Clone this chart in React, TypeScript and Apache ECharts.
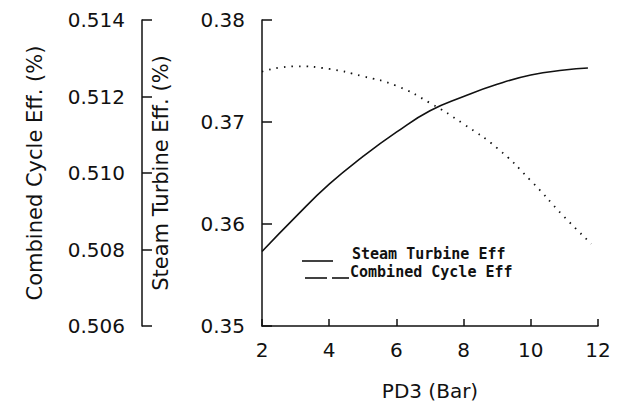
import React, { useEffect, useRef } from "react";
import * as echarts from "echarts";

// PD3 pressure (bar) sample points and efficiencies
const pd3Steam = [2, 3, 4, 5, 6, 7, 8, 9, 10, 11, 11.7];
const steamEff = [0.3573, 0.3607, 0.3639, 0.3666, 0.369, 0.3711, 0.3725, 0.3737, 0.3746, 0.3751, 0.3753];
const pd3Combined = [2, 3, 4, 5, 6, 7, 8, 9, 10, 11, 11.8];
const combinedEff = [0.51265, 0.51279, 0.51272, 0.51253, 0.51228, 0.51183, 0.51128, 0.51065, 0.5098, 0.50885, 0.50815];

const legendNames = ["Steam Turbine Eff", "Combined Cycle Eff"];

const FONT = "DejaVu Sans";
const INK = "#111";

export default function App() {
  const ref = useRef<HTMLDivElement>(null);

  useEffect(() => {
    if (!ref.current) return;
    const chart = echarts.init(ref.current, undefined, { renderer: "svg" });

    const axisText = { color: INK, fontFamily: FONT, fontSize: 20 };
    const axisLine = { show: true, lineStyle: { color: INK, width: 1.5 } };
    const legendFont = `bold 15px "DejaVu Sans Mono"`;

    chart.setOption({
      animation: false,
      backgroundColor: "#fff",
      grid: { left: 262, right: 22, top: 20, bottom: 85 },
      xAxis: {
        type: "value",
        min: 2,
        max: 12,
        interval: 2,
        name: "PD3 (Bar)",
        nameLocation: "middle",
        nameGap: 55,
        nameTextStyle: { ...axisText, fontSize: 20 },
        axisLine,
        axisTick: { inside: true, length: 7, lineStyle: { color: INK, width: 1.5 } },
        axisLabel: { ...axisText, margin: 14 },
        splitLine: { show: false },
      },
      yAxis: [
        {
          type: "value",
          min: 0.35,
          max: 0.38,
          interval: 0.01,
          position: "left",
          name: "Steam Turbine Eff. (%)",
          nameLocation: "middle",
          nameRotate: 90,
          nameGap: 91,
          nameTextStyle: { ...axisText, fontSize: 21 },
          axisLine,
          axisTick: { inside: true, length: 10, lineStyle: { color: INK, width: 1.5 } },
          axisLabel: { ...axisText, margin: 17, formatter: (v: number) => v.toFixed(2) },
          splitLine: { show: false },
        },
        {
          type: "value",
          min: 0.506,
          max: 0.514,
          interval: 0.002,
          position: "left",
          offset: 120,
          name: "Combined Cycle Eff. (%)",
          nameLocation: "middle",
          nameRotate: 90,
          nameGap: 97,
          nameTextStyle: { ...axisText, fontSize: 21 },
          axisLine,
          axisTick: { inside: true, length: 10, lineStyle: { color: INK, width: 1.5 } },
          axisLabel: { ...axisText, margin: 17, formatter: (v: number) => v.toFixed(3) },
          splitLine: { show: false },
        },
      ],
      series: [
        {
          name: legendNames[0],
          type: "line",
          yAxisIndex: 0,
          smooth: true,
          showSymbol: false,
          lineStyle: { color: INK, width: 1.6 },
          data: pd3Steam.map((x, i) => [x, steamEff[i]]),
        },
        {
          name: legendNames[1],
          type: "line",
          yAxisIndex: 1,
          smooth: true,
          showSymbol: false,
          lineStyle: { color: INK, width: 1.8, type: [1.5, 6] },
          data: pd3Combined.map((x, i) => [x, combinedEff[i]]),
        },
      ],
      graphic: [
        { type: "line", shape: { x1: 302, y1: 261, x2: 333, y2: 261 }, style: { stroke: INK, lineWidth: 1.6 } },
        {
          type: "text",
          x: 352,
          y: 254,
          style: { text: legendNames[0], fill: INK, font: legendFont, verticalAlign: "middle" },
        },
        { type: "line", shape: { x1: 305, y1: 278, x2: 327, y2: 278 }, style: { stroke: INK, lineWidth: 1.6 } },
        { type: "line", shape: { x1: 332, y1: 278, x2: 349, y2: 278 }, style: { stroke: INK, lineWidth: 1.6 } },
        {
          type: "text",
          x: 350,
          y: 272,
          style: { text: legendNames[1], fill: INK, font: legendFont, verticalAlign: "middle" },
        },
      ],
    });

    return () => chart.dispose();
  }, []);

  return <div ref={ref} style={{ width: 620, height: 411, position: "absolute", left: 0, top: 0 }} />;
}
